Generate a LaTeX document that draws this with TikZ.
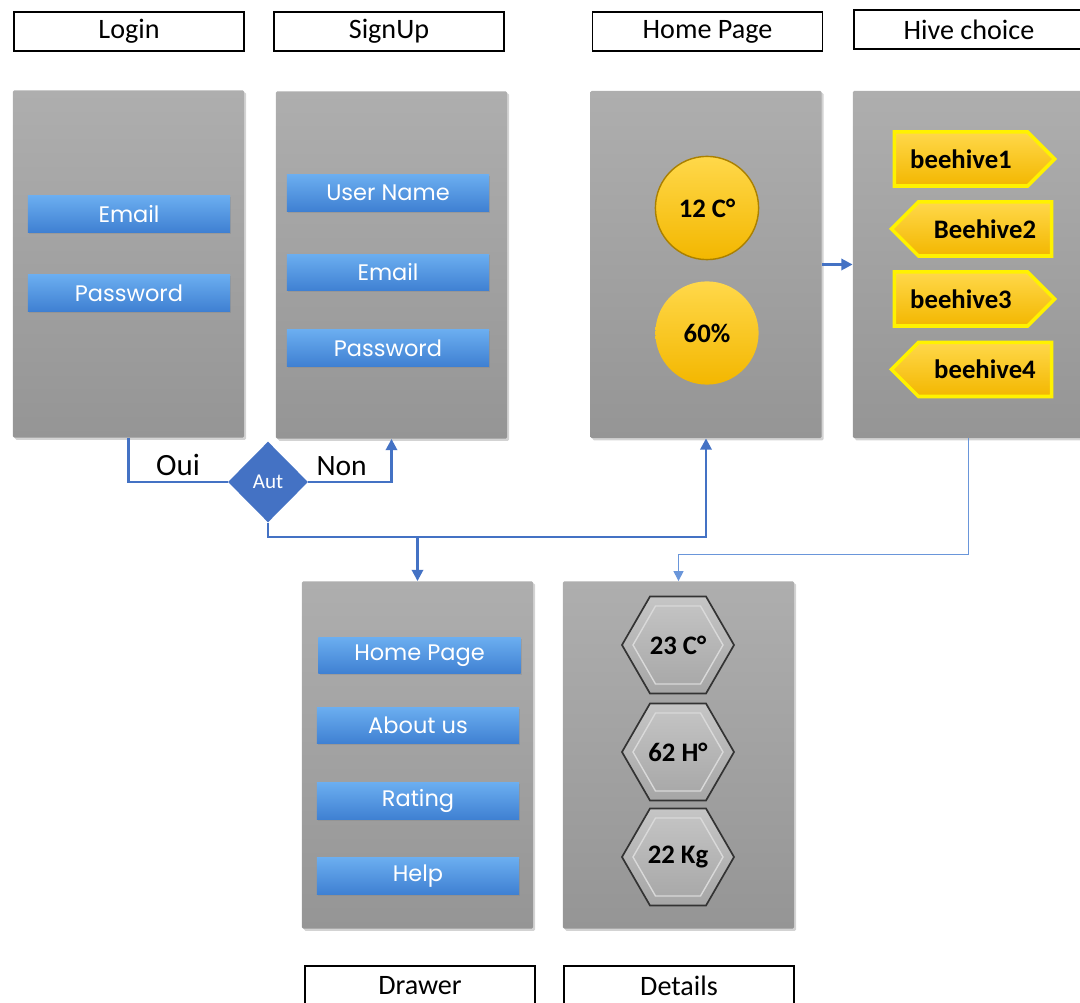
\documentclass[tikz,border=0pt]{standalone}
\usepackage{fontspec}
\setmainfont{Carlito}
\newfontfamily\btnfont{Poppins}
\usetikzlibrary{arrows.meta,shapes.geometric,shapes.symbols,shadows,positioning}
\definecolor{linkblue}{HTML}{4472C4}
\definecolor{thinblue}{HTML}{6A96DA}
\definecolor{paneltop}{HTML}{AEAEAE}
\definecolor{panelbot}{HTML}{959595}
\definecolor{btntop}{HTML}{6BAEF0}
\definecolor{btnbot}{HTML}{3F80D2}
\definecolor{goldtop}{HTML}{FFD84A}
\definecolor{goldbot}{HTML}{F3B700}

\begin{document}
\begin{tikzpicture}[x=0.025cm, y=-0.025cm,
    title/.style={draw, thick, minimum width=5.75cm, minimum height=0.975cm,
        font=\fontsize{20}{24}\selectfont},
    panel/.style={rounded corners=1pt, top color=paneltop, bottom color=panelbot,
        minimum width=5.78cm, minimum height=8.68cm,
        drop shadow={shadow xshift=1.5pt, shadow yshift=-1.5pt, opacity=0.35}},
    btn/.style={top color=btntop, bottom color=btnbot, minimum width=5.05cm,
        minimum height=0.92cm, text=white, font=\btnfont\fontsize{16}{19}\selectfont,
        drop shadow={shadow xshift=1pt, shadow yshift=-1pt, opacity=0.3}},
    tag/.style={signal, draw=yellow, line width=2.5pt, top color=goldtop, bottom color=goldbot,
        minimum width=4.0cm, minimum height=1.35cm, font=\bfseries\fontsize{19}{22}\selectfont},
    gauge/.style={circle, top color=goldtop, bottom color=goldbot, minimum size=2.58cm,
        font=\bfseries\fontsize{19}{22}\selectfont},
    hexout/.style={regular polygon, regular polygon sides=6, minimum size=2.8cm, inner sep=0pt,
        draw=black!80, line width=1.2pt, top color=gray!45, bottom color=gray!70,
        font=\bfseries\fontsize{19}{22}\selectfont},
    hexin/.style={regular polygon, regular polygon sides=6, minimum size=2.25cm, inner sep=0pt,
        draw=gray!30, line width=1pt},
    link/.style={draw=linkblue, line width=1.8pt, -{Triangle[width=8pt,length=8pt]}},
    thinlink/.style={draw=thinblue, line width=0.9pt, -{Triangle[width=7pt,length=7pt]}}]
    \useasboundingbox (0,0) rectangle (1080,1003);

    \node[title] (tlogin) at (129,31.5) {Login};
    \node[title] (tsignup) at (389,31.5) {SignUp};
    \node[title] (thome) at (707.5,31.5) {Home Page};
    \node[title] (thive) at (969,29.5) {Hive choice};
    \node[title] (tdrawer) at (420,985.5) {Drawer};
    \node[title] (tdetails) at (679,985.5) {Details};

    \node[panel] (login) at (128.5,264) {};
    \node[panel] (signup) at (391.5,265) {};
    \node[panel] (home) at (706,264.5) {};
    \node[panel] (hive) at (968.5,264.5) {};
    \node[panel] (drawer) at (417.5,755) {};
    \node[panel] (details) at (678.5,755) {};

    \node[btn] (lemail) at (129,214) {Email};
    \node[btn] (lpass) at (129,293) {Password};
    \node[btn] (suser) at (388,193) {User Name};
    \node[btn] (semail) at (388,272.5) {Email};
    \node[btn] (spass) at (388,348) {Password};
    \node[btn] (dhome) at (419.5,655.5) {Home Page};
    \node[btn] (dabout) at (418,725.5) {About us};
    \node[btn] (drating) at (418,801) {Rating};
    \node[btn] (dhelp) at (418,876) {Help};

    \node[gauge, draw=goldbot!70!black, line width=1pt] (temp) at (707,208) {12 C°};
    \node[gauge] (hum) at (707,333) {60\%};

    \node[tag, signal to=east] (bh1) at (961,159) {beehive1};
    \node[tag, signal to=west] (bh2) at (985,229) {Beehive2};
    \node[tag, signal to=east] (bh3) at (961,299) {beehive3};
    \node[tag, signal to=west] (bh4) at (985,369.5) {beehive4};

    \foreach \v/\y [count=\i] in {23 C°/645, 62 H°/752, 22 Kg/857} {
        \node[hexout] (hex\i) at (678,\y) {\v};
        \node[hexin] (hexin\i) at (hex\i.center) {};
    }

    \node[diamond, fill=linkblue, minimum width=2cm, minimum height=2.02cm, inner sep=0pt,
        text=white, font=\fontsize{15}{18}\selectfont] (aut) at (268,482) {Aut};

    \draw[draw=linkblue, line width=1.8pt] (login.south) |- node[pos=0.75, above, font=\fontsize{22}{26}\selectfont] {Oui} (aut.west);
    \draw[link] (aut.east) -| node[pos=0.2, above, font=\fontsize{21}{25}\selectfont] {Non} (signup.south);
    \coordinate (bus) at (268,537);
    \draw[link] (aut.south) -- (bus) -| (home.south);
    \draw[link] (bus -| drawer.north) -- (drawer.north);
    \draw[link] (home.east) -- (hive.west);
    \draw[thinlink] (hive.south) -- ++(0,116) -| (details.north);
\end{tikzpicture}
\end{document}
